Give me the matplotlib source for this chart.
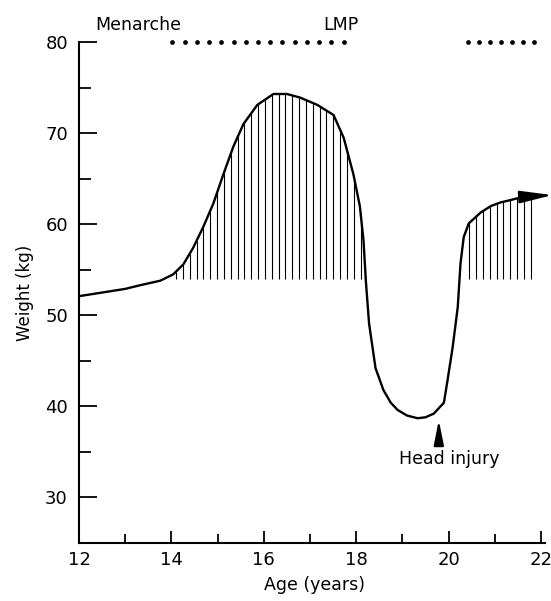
import numpy as np
import matplotlib
matplotlib.use("Agg")
import matplotlib.pyplot as plt
from matplotlib.ticker import MultipleLocator

# weight curve (age in years, weight in kg)
age = [12.0, 12.5, 13.0, 13.32, 13.76, 14.04, 14.26, 14.47, 14.69, 14.91,
       15.12, 15.34, 15.56, 15.86, 16.21, 16.5, 16.79, 17.16, 17.51, 17.73,
       17.94, 18.08, 18.16, 18.21, 18.28, 18.42, 18.59, 18.75, 18.9, 19.1,
       19.33, 19.5, 19.68, 19.9, 19.98, 20.09, 20.2, 20.26, 20.33, 20.44,
       20.7, 20.92, 21.13, 21.3, 21.61]
weight = [52.1, 52.5, 52.9, 53.3, 53.8, 54.5, 55.6, 57.4, 59.7, 62.3,
          65.4, 68.5, 71.0, 73.1, 74.3, 74.3, 73.9, 73.1, 72.0, 69.5,
          65.5, 62.0, 58.2, 53.8, 49.1, 44.2, 41.8, 40.4, 39.6, 39.0,
          38.7, 38.8, 39.2, 40.4, 42.9, 46.5, 50.9, 55.7, 58.6, 60.1,
          61.3, 62.0, 62.4, 62.6, 63.0]

base_weight = 54.0            # bottom of the hatched areas
hatch_spans = [(14.1, 18.17), (20.45, 21.9)]

menses_dots_1 = np.linspace(14.02, 17.73, 15)
menses_dots_2 = np.linspace(20.42, 21.85, 7)

injury_age = 19.79

fig = plt.figure(figsize=(5.51, 6.01), dpi=100)
ax = fig.add_axes([0.1434, 0.0965, 0.855, 0.8335])

# hatching
for lo, hi in hatch_spans:
    hx = np.arange(lo, hi, 0.148)
    top = np.interp(hx, age, weight)
    ax.vlines(hx, base_weight, top, color="black", linewidth=0.8)

ax.plot(age, weight, color="black", linewidth=1.7, solid_joinstyle="round")

# arrow at the end of the curve
ax.annotate("", xy=(22.25, 63.2), xytext=(21.58, 63.0),
            arrowprops=dict(arrowstyle="-|>,head_length=2.0,head_width=0.38",
                            color="black", linewidth=1.5, shrinkA=0, shrinkB=0),
            annotation_clip=False)

# head injury marker
ax.annotate("", xy=(injury_age, 38.5), xytext=(injury_age, 35.9),
            arrowprops=dict(arrowstyle="-|>,head_length=1.5,head_width=0.3",
                            color="black", linewidth=1.5, shrinkA=0, shrinkB=0))
ax.text(18.92, 34.2, "Head injury", fontsize=12.5, ha="left", va="center")

# menses dots along the top
ax.plot(menses_dots_1, [80] * len(menses_dots_1), "o", color="black",
        markersize=2.4, clip_on=False)
ax.plot(menses_dots_2, [80] * len(menses_dots_2), "o", color="black",
        markersize=2.4, clip_on=False)
ax.text(13.28, 81.9, "Menarche", fontsize=12.5, ha="center", va="center")
ax.text(17.66, 81.9, "LMP", fontsize=12.5, ha="center", va="center")

ax.set_xlim(12, 22.2)
ax.set_ylim(25, 80)
ax.spines["top"].set_visible(False)
ax.spines["right"].set_visible(False)
ax.spines["left"].set_linewidth(1.5)
ax.spines["bottom"].set_linewidth(1.5)
ax.spines["bottom"].set_bounds(12, 22.1)

ax.xaxis.set_major_locator(MultipleLocator(2))
ax.xaxis.set_minor_locator(MultipleLocator(1))
ax.yaxis.set_major_locator(MultipleLocator(10))
ax.yaxis.set_minor_locator(MultipleLocator(5))
ax.set_yticks([30, 40, 50, 60, 70, 80])

ax.tick_params(axis="x", which="major", direction="in", length=8.5, width=1.3,
               pad=6, labelsize=13)
ax.tick_params(axis="x", which="minor", direction="in", length=6.5, width=1.3)
ax.tick_params(axis="y", which="major", direction="in", length=13, width=1.3,
               pad=8, labelsize=13)
ax.tick_params(axis="y", which="minor", direction="in", length=8.5, width=1.3)
# inward ticks drawn to the right of the spine
for t in ax.yaxis.get_major_ticks() + ax.yaxis.get_minor_ticks():
    t.tick1line.set_marker(matplotlib.lines.TICKRIGHT)
for t in ax.xaxis.get_major_ticks() + ax.xaxis.get_minor_ticks():
    t.tick1line.set_marker(matplotlib.lines.TICKUP)

ax.set_xlabel("Age (years)", fontsize=12.5, labelpad=5)
ax.set_ylabel("Weight (kg)", fontsize=12, labelpad=8)

fig.savefig("out.png", dpi=100)
